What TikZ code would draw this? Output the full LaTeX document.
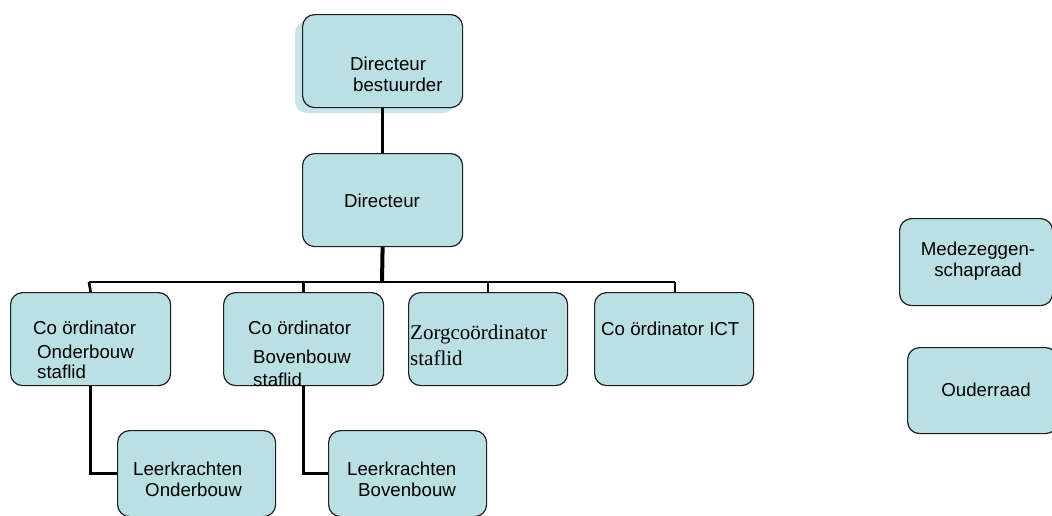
\documentclass[tikz,border=0pt]{standalone}
\usepackage{fontspec}
\setmainfont{Liberation Sans}
\newfontfamily\timesf{Liberation Serif}
\definecolor{boxc}{RGB}{186,224,227}
\definecolor{shadc}{RGB}{200,230,233}
\definecolor{edgec}{RGB}{30,30,30}
\tikzset{
  box/.style={draw=edgec, fill=boxc, rounded corners=12pt, line width=1.2pt, inner sep=0pt, anchor=north west},
  txt/.style={anchor=base west, inner sep=0pt, font=\fontsize{18.7}{20}\selectfont},
  serif/.style={anchor=base west, inner sep=0pt, font=\timesf\fontsize{21}{23}\selectfont},
  link/.style={line width=2.6pt, black},
}
\begin{document}
\begin{tikzpicture}[x=1pt,y=-1pt]
\useasboundingbox (0,0) rectangle (1052,515);
% shadow of top box
\fill[shadc, rounded corners=12pt] (295,21) rectangle (455,113);
% boxes
\node[box, minimum width=160pt, minimum height=93pt] (top) at (302,14) {};
\node[box, minimum width=160pt, minimum height=93pt] (dir) at (302,153) {};
\node[box, minimum width=160pt, minimum height=93pt] (b1) at (10,292) {};
\node[box, minimum width=160pt, minimum height=93pt] (b2) at (223,292) {};
\node[box, minimum width=159pt, minimum height=93pt] (b3) at (408,292) {};
\node[box, minimum width=159pt, minimum height=93pt] (b4) at (594,292) {};
\node[box, minimum width=158pt, minimum height=86pt] (l1) at (117,430) {};
\node[box, minimum width=158pt, minimum height=86pt] (l2) at (328,430) {};
\node[box, minimum width=153pt, minimum height=87pt] (mz) at (899,218) {};
\node[box, minimum width=150pt, minimum height=86pt] (or) at (907,347) {};
% connectors
\draw[link] (top.south) -- (dir.north);
\coordinate (bus) at (382,282);
\coordinate (busL) at (89,282);
\coordinate (busR) at (675,282);
\draw[line width=4pt] (dir.south) -- (bus);
\draw[link] (busL) -- (busR);
\draw[link] (busL) -- (b1.north);
\draw[link] (b2.north |- bus) -- (b2.north);
\draw[link] (b3.north |- bus) -- (b3.north);
\draw[link] (busR) -- (busR |- b4.north);
\draw[link] (b1.south) |- (l1.west);
\draw[link] (b2.south) |- (l2.west);
% texts
\node[txt] (t1) at (350,70) {Directeur};
\node[txt] (t2) at (353,91.5) {bestuurder};
\node[txt, anchor=base] (t3) at (382,207) {Directeur};
\node[txt] (t4) at (33,334) {Co ördinator};
\node[txt] (t5) at (37,358) {Onderbouw};
\node[txt] (t6) at (37,378.5) {staflid};
\node[txt] (t7) at (248,334) {Co ördinator};
\node[txt] (t8) at (253,363) {Bovenbouw};
\node[txt] (t9) at (253,386.5) {staflid};
\node[serif] (t10) at (410,339) {Zorgcoördinator};
\node[serif] (t11) at (410,365) {staflid};
\node[txt] (t12) at (601,335) {Co ördinator ICT};
\node[txt] (t13) at (133,475) {Leerkrachten};
\node[txt] (t14) at (145,496.5) {Onderbouw};
\node[txt] (t15) at (347,475) {Leerkrachten};
\node[txt] (t16) at (358,496.5) {Bovenbouw};
\node[txt, anchor=base] (t17) at (978,255) {Medezeggen-};
\node[txt, anchor=base] (t18) at (978,276) {schapraad};
\node[txt, anchor=base] (t19) at (986,396) {Ouderraad};
\end{tikzpicture}
\end{document}
